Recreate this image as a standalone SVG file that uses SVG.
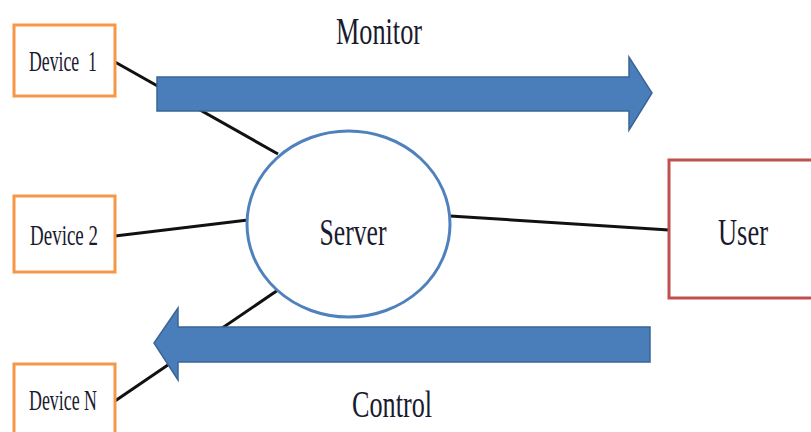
<svg xmlns="http://www.w3.org/2000/svg" width="811" height="432" viewBox="0 0 811 432">
<style>
.dev{fill:#fff;stroke:#F79646;stroke-width:3}
.usr{fill:#fff;stroke:#C0504D;stroke-width:3}
.srv{fill:#fff;stroke:#4F81BD;stroke-width:3}
.arr{fill:#4A7EBB;stroke:#3A6596;stroke-width:1.5}
.ln{stroke:#111;stroke-width:3;fill:none}
text{font-family:"Liberation Serif","Times New Roman",serif;fill:#1a1a2e}
.sm{font-size:29px}
.lg{font-size:38px}
</style>
<rect width="811" height="432" fill="#fff"/>
<g id="connectors">
<line class="ln" x1="115" y1="62" x2="278" y2="154"/>
<line class="ln" x1="115" y1="236" x2="248" y2="220"/>
<line class="ln" x1="115" y1="401" x2="278" y2="290"/>
<line class="ln" x1="450" y1="216" x2="669" y2="230"/>
</g>
<g id="server">
<ellipse class="srv" cx="348.5" cy="224" rx="101.5" ry="93"/>
<text class="lg" x="353" y="245" text-anchor="middle" textLength="67" lengthAdjust="spacingAndGlyphs">Server</text>
</g>
<g id="monitor-arrow">
<polygon class="arr" points="157,77 629,77 629,57 652,93 629,130 629,111 157,111"/>
<text class="lg" x="379" y="44" text-anchor="middle" textLength="86" lengthAdjust="spacingAndGlyphs">Monitor</text>
</g>
<g id="control-arrow">
<polygon class="arr" points="650,327 178,327 178,308 154,343 178,380 178,362 650,362"/>
<text class="lg" x="392" y="417" text-anchor="middle" textLength="80" lengthAdjust="spacingAndGlyphs">Control</text>
</g>
<g id="device1">
<rect class="dev" x="14" y="25" width="101" height="71"/>
<text class="sm" x="63" y="71" text-anchor="middle" textLength="68" lengthAdjust="spacingAndGlyphs">Device&#160; 1</text>
</g>
<g id="device2">
<rect class="dev" x="14" y="196" width="101" height="76"/>
<text class="sm" x="64" y="245" text-anchor="middle" textLength="68" lengthAdjust="spacingAndGlyphs">Device 2</text>
</g>
<g id="deviceN">
<rect class="dev" x="14" y="364" width="101" height="76"/>
<text class="sm" x="63" y="410" text-anchor="middle" textLength="68" lengthAdjust="spacingAndGlyphs">Device N</text>
</g>
<g id="user">
<rect class="usr" x="669" y="160" width="150" height="138"/>
<text class="lg" x="743" y="245" text-anchor="middle" textLength="50" lengthAdjust="spacingAndGlyphs">User</text>
</g>
</svg>
